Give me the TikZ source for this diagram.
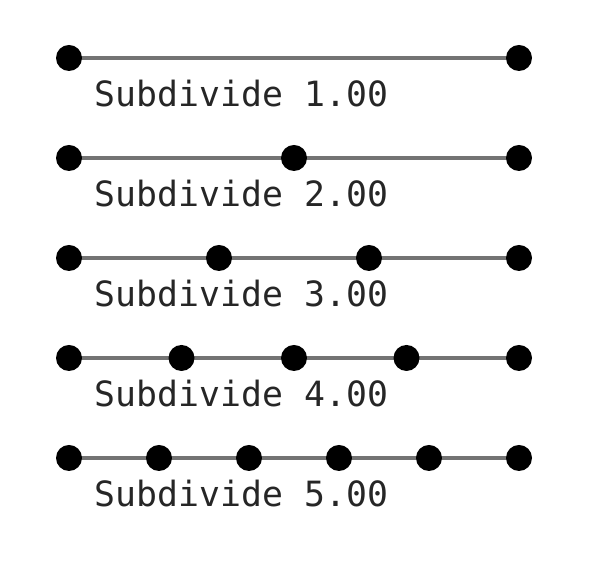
\documentclass[tikz,border=0pt]{standalone}
\usepackage{fontspec}
\setmonofont{DejaVu Sans Mono}
\usetikzlibrary{calc}
\tikzset{
	segline/.style={draw=black!55,line width=1pt},
	dot/.style={circle,fill=black,inner sep=0pt,minimum size=0.26cm},
	sublabel/.style={anchor=base west,inner sep=0pt,text=black!85,font=\ttfamily\fontsize{9.9}{12}\selectfont}
}
\begin{document}
\begin{tikzpicture}
\useasboundingbox (0,0) rectangle (6,-5.64);

\foreach \n in {1,...,5}{
	\pgfmathsetmacro{\y}{-0.58-(\n-1)}
	\coordinate (l\n) at (0.69,\y);
	\coordinate (r\n) at (5.19,\y);
	\draw[segline] (l\n) -- (r\n);
	\foreach \i in {0,...,\n}{
		\node[dot] (d\n-\i) at ($(l\n)!\i/\n!(r\n)$) {};
	}
	\node[sublabel] (t\n) at (0.94,\y-0.485) {Subdivide \n.00};
}
\end{tikzpicture}
\end{document}
